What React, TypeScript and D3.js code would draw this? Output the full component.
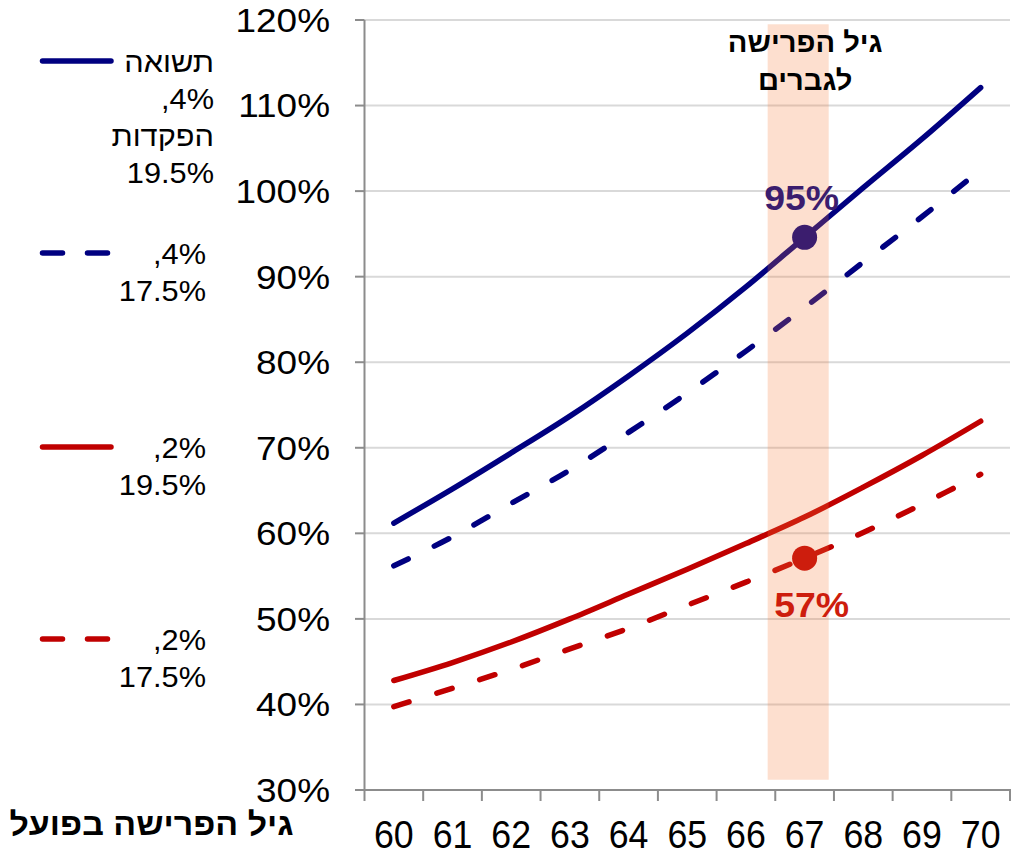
import React from "react";
import * as d3 from "d3";

const ages = [60, 61, 62, 63, 64, 65, 66, 67, 68, 69, 70];
const blueSolid = [61.2, 65.2, 69.4, 73.7, 78.4, 83.4, 88.8, 94.6, 100.4, 106.1, 112.1];
const blueDashed = [56.2, 59.6, 63.5, 67.4, 71.8, 76.4, 81.3, 86.4, 91.7, 97.0, 102.5];
const redSolid = [42.8, 44.9, 47.3, 50.0, 52.9, 55.8, 58.8, 61.9, 65.4, 69.1, 73.1];
const redDashed = [39.75, 41.9, 44.1, 46.5, 48.9, 51.6, 54.3, 57.1, 60.1, 63.4, 66.9];
const yTicks = [30, 40, 50, 60, 70, 80, 90, 100, 110, 120];
const highlightAges = [66.37, 67.41];
const highlightValues = [31.2, 119.5];
const highlightAge = 67;
const annotationLines = ["גיל הפרישה", "לגברים"];
const xTitle = "גיל הפרישה בפועל";
const legendItems = [
  { lines: ["תשואה", ",4%", "הפקדות", "19.5%"], color: "#000080", dashed: false },
  { lines: [",4%", "17.5%"], color: "#000080", dashed: true },
  { lines: [",2%", "19.5%"], color: "#C00000", dashed: false },
  { lines: [",2%", "17.5%"], color: "#C00000", dashed: true },
];

const FONT = "'Liberation Sans', Arial, sans-serif";

function T(props: {
  x: number;
  y: number;
  sx?: number;
  size: number;
  anchor?: string;
  bold?: boolean;
  fill?: string;
  dy?: string;
  children: React.ReactNode;
}) {
  const { x, y, sx = 1, size, anchor = "middle", bold, fill = "#000", dy, children } = props;
  return (
    <text
      transform={`translate(${x},${y}) scale(${sx},1)`}
      textAnchor={anchor}
      fontSize={size}
      fontWeight={bold ? "bold" : "normal"}
      fill={fill}
      dy={dy}
    >
      {children}
    </text>
  );
}

export default function App() {
  const x = d3.scaleBand<number>().domain(ages).range([364.5, 1010]).padding(0);
  const bw = x.bandwidth();
  const cx = (a: number) => (x(a) as number) + bw / 2;
  const ageLin = d3.scaleLinear().domain([ages[0], ages[ages.length - 1]]).range([cx(ages[0]), cx(ages[ages.length - 1])]);
  const y = d3.scaleLinear().domain([30, 120]).range([790, 20]);

  const line = d3
    .line<number>()
    .x((_, i) => cx(ages[i]))
    .y((v) => y(v))
    .curve(d3.curveCatmullRom.alpha(0.5));

  const series = [
    { data: blueSolid, color: "#000080", dashed: false },
    { data: blueDashed, color: "#000080", dashed: true },
    { data: redSolid, color: "#C00000", dashed: false },
    { data: redDashed, color: "#C00000", dashed: true },
  ];

  const hi = ages.indexOf(highlightAge);
  const bluePt = { x: cx(highlightAge), y: y(blueSolid[hi]) };
  const redPt = { x: cx(highlightAge), y: y(redDashed[hi]) };

  const legendY = [61, 253, 447, 639];
  const boundaries = ages.map((a) => x(a) as number).concat([(x(ages[ages.length - 1]) as number) + bw]);

  return (
    <svg width={1019} height={865} style={{ position: "absolute", left: 0, top: 0, background: "#fff" }} fontFamily={FONT}>
      {yTicks.slice(1).map((t) => (
        <line key={t} x1={364.5} x2={1010} y1={y(t)} y2={y(t)} stroke="#d9d9d9" strokeWidth={2} />
      ))}
      <line x1={364.5} x2={364.5} y1={y(120)} y2={y(30)} stroke="#8c8c8c" strokeWidth={2} />
      {yTicks.map((t) => (
        <line key={t} x1={355} x2={364.5} y1={y(t)} y2={y(t)} stroke="#8c8c8c" strokeWidth={2} />
      ))}
      {yTicks.map((t) => (
        <T key={t} x={330} y={y(t)} dy="0.36em" anchor="end" size={33} sx={1.12}>
          {`${t}%`}
        </T>
      ))}
      <line x1={355} x2={1011} y1={y(30)} y2={y(30)} stroke="#8c8c8c" strokeWidth={2} />
      {boundaries.map((b, i) => (
        <line key={i} x1={b} x2={b} y1={y(30)} y2={y(30) + 11} stroke="#8c8c8c" strokeWidth={2} />
      ))}
      {ages.map((a) => (
        <T key={a} x={cx(a)} y={848} size={38} sx={0.94}>
          {a}
        </T>
      ))}
      <T x={151.5} y={823} dy="0.36em" size={32} sx={1.06} bold>
        {xTitle}
      </T>

      {series.map((s, i) => (
        <path
          key={i}
          d={line(s.data) || ""}
          fill="none"
          stroke={s.color}
          strokeWidth={5.5}
          strokeLinecap="round"
          strokeLinejoin="round"
          strokeDasharray={s.dashed ? "16 29" : undefined}
        />
      ))}
      <circle cx={bluePt.x} cy={bluePt.y} r={12.5} fill="#000080" />
      <circle cx={redPt.x} cy={redPt.y} r={12.5} fill="#C00000" />

      <rect
        x={ageLin(highlightAges[0])}
        width={ageLin(highlightAges[1]) - ageLin(highlightAges[0])}
        y={y(highlightValues[1])}
        height={y(highlightValues[0]) - y(highlightValues[1])}
        fill="rgb(246,121,54)"
        fillOpacity={0.24}
      />

      {annotationLines.map((t, i) => (
        <T key={i} x={ageLin(67.01)} y={42 + i * 38} dy="0.36em" size={28} sx={1.04} bold>
          {t}
        </T>
      ))}
      <T x={bluePt.x - 3} y={bluePt.y - 40} dy="0.36em" size={35} sx={1.07} bold fill="#3B1D6E">
        {`${Math.round(blueSolid[hi])}%`}
      </T>
      <T x={redPt.x + 7} y={redPt.y + 46} dy="0.36em" size={35} sx={1.07} bold fill="#CD1D0D">
        {`${Math.round(redDashed[hi])}%`}
      </T>

      {legendItems.map((it, i) => (
        <g key={i}>
          <line
            x1={42.5}
            x2={it.dashed ? 107.5 : 111}
            y1={legendY[i]}
            y2={legendY[i]}
            stroke={it.color}
            strokeWidth={5.5}
            strokeLinecap="round"
            strokeDasharray={it.dashed ? "20 25" : undefined}
          />
          {it.lines.map((t, j) => (
            <T
              key={j}
              x={i === 0 ? 214 : 206}
              y={legendY[i] + 1 + j * 37}
              dy="0.36em"
              anchor="end"
              size={29}
              sx={1.06}
            >
              {t}
            </T>
          ))}
        </g>
      ))}
    </svg>
  );
}
